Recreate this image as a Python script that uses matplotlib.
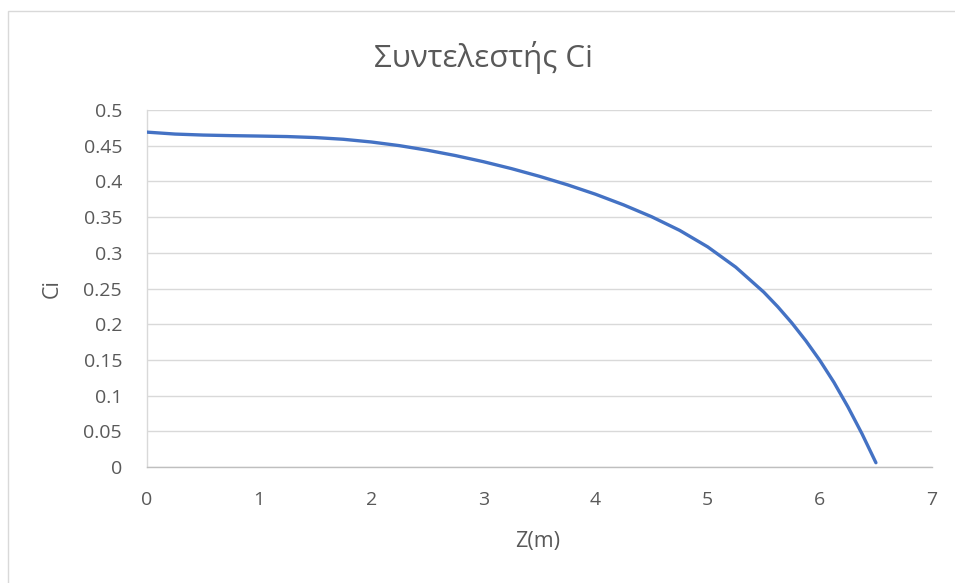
import matplotlib
matplotlib.use("Agg")
import matplotlib.pyplot as plt
from matplotlib.patches import Rectangle

# Coefficient Ci along depth Z
z_m = [0.0, 0.25, 0.5, 0.75, 1.0, 1.25, 1.5, 1.75, 2.0, 2.25, 2.5, 2.75,
       3.0, 3.25, 3.5, 3.75, 4.0, 4.25, 4.5, 4.75, 5.0, 5.25, 5.5, 5.625,
       5.75, 5.875, 6.0, 6.125, 6.25, 6.375, 6.5]
ci = [0.4690, 0.4663, 0.4649, 0.4641, 0.4635, 0.4628, 0.4614, 0.4590,
      0.4552, 0.4501, 0.4437, 0.4362, 0.4276, 0.4179, 0.4071, 0.3952,
      0.3820, 0.3671, 0.3505, 0.3314, 0.3083, 0.2799, 0.2449, 0.2244,
      0.2018, 0.1768, 0.1493, 0.1187, 0.0843, 0.0468, 0.0060]

x_ticks = [0, 1, 2, 3, 4, 5, 6, 7]
y_ticks = [0, 0.05, 0.1, 0.15, 0.2, 0.25, 0.3, 0.35, 0.4, 0.45, 0.5]
y_tick_labels = ["0", "0.05", "0.1", "0.15", "0.2", "0.25", "0.3",
                 "0.35", "0.4", "0.45", "0.5"]

plt.rcParams["font.family"] = ["Open Sans", "DejaVu Sans"]
text_col = "#595959"

fig = plt.figure(figsize=(9.55, 5.83), dpi=100)
fig.patch.set_facecolor("white")

# chart-area frame
fig.patches.append(Rectangle((8 / 955, -0.05), 1.2, 1 - 11 / 583 + 0.05,
                             transform=fig.transFigure, fill=False,
                             edgecolor="#D9D9D9", linewidth=1.0))

ax = fig.add_axes([147 / 955, 1 - 467 / 583, 785 / 955, 357 / 583])
ax.plot(z_m, ci, color="#4472C4", linewidth=2.4, solid_capstyle="round",
        solid_joinstyle="round", zorder=3)

ax.set_xlim(0, 7)
ax.set_ylim(0, 0.5)
ax.set_xticks(x_ticks)
ax.set_xticklabels([str(t) for t in x_ticks])
ax.set_yticks(y_ticks)
ax.set_yticklabels(y_tick_labels)

ax.grid(axis="y", color="#D9D9D9", linewidth=1.0, zorder=0)
ax.set_axisbelow(True)
for side in ("top", "right"):
    ax.spines[side].set_visible(False)
ax.spines["left"].set_color("#D9D9D9")
ax.spines["left"].set_linewidth(1.0)
ax.spines["bottom"].set_color("#BFBFBF")
ax.spines["bottom"].set_linewidth(1.0)

ax.tick_params(axis="both", length=0, labelsize=14, colors=text_col)
ax.tick_params(axis="x", pad=17)
ax.tick_params(axis="y", pad=18)

fig.text(538 / 955, 1 - 541 / 583, "Z(m)", ha="center", va="center",
         fontsize=15.5, color=text_col)
fig.text(52 / 955, 1 - 289 / 583, "Ci", ha="center", va="center",
         rotation=90, fontsize=15.5, color=text_col)
fig.text(483 / 955, 1 - 58 / 583, "Συντελεστής Ci", ha="center",
         va="center", fontsize=22.5, color=text_col)

fig.savefig("out.png", dpi=100, facecolor="white")
